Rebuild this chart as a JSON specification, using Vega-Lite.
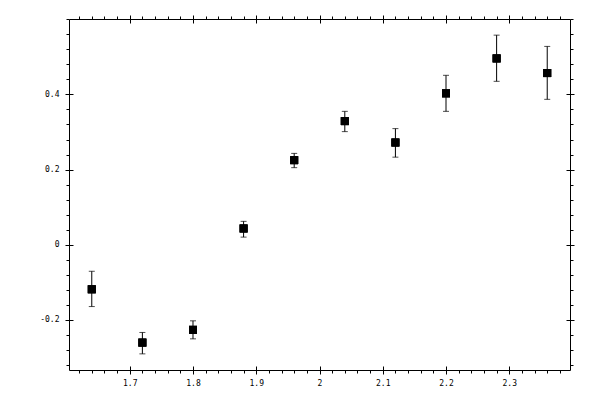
{
  "$schema": "https://vega.github.io/schema/vega-lite/v6.json",
  "autosize": "none",
  "width": 501,
  "height": 351,
  "padding": {"left": 69, "top": 19, "right": 30, "bottom": 30},
  "background": "white",
  "data": {
    "values": [
      {"x": 1.64, "y": -0.119, "lo": -0.165, "hi": -0.071},
      {"x": 1.72, "y": -0.261, "lo": -0.291, "hi": -0.234},
      {"x": 1.80, "y": -0.227, "lo": -0.251, "hi": -0.203},
      {"x": 1.88, "y": 0.043, "lo": 0.020, "hi": 0.062},
      {"x": 1.96, "y": 0.225, "lo": 0.205, "hi": 0.243},
      {"x": 2.04, "y": 0.329, "lo": 0.301, "hi": 0.355},
      {"x": 2.12, "y": 0.272, "lo": 0.233, "hi": 0.309},
      {"x": 2.20, "y": 0.403, "lo": 0.355, "hi": 0.451},
      {"x": 2.28, "y": 0.496, "lo": 0.435, "hi": 0.558},
      {"x": 2.36, "y": 0.457, "lo": 0.387, "hi": 0.528}
    ]
  },
  "resolve": {"axis": {"x": "independent", "y": "independent"}},
  "layer": [
    {
      "mark": {"type": "rule", "color": "black", "strokeWidth": 1},
      "encoding": {
        "x": {
          "field": "x", "type": "quantitative",
          "scale": {"domain": [1.604, 2.396], "nice": false, "zero": false},
          "axis": {"orient": "bottom", "title": null, "values": [1.7, 1.8, 1.9, 2, 2.1, 2.2, 2.3], "tickSize": 4, "labelPadding": 5, "labelExpr": "toString(datum.value)"}
        },
        "y": {
          "field": "lo", "type": "quantitative",
          "scale": {"domain": [-0.334, 0.601], "nice": false, "zero": false},
          "axis": {"orient": "left", "title": null, "values": [-0.2, 0, 0.2, 0.4], "tickSize": 4, "labelPadding": 6, "labelExpr": "toString(datum.value)"}
        },
        "y2": {"field": "hi"}
      }
    },
    {
      "mark": {"type": "tick", "color": "black", "orient": "horizontal", "size": 6, "thickness": 1},
      "encoding": {
        "x": {
          "field": "x", "type": "quantitative",
          "axis": {"orient": "bottom", "title": null, "values": [1.7, 1.8, 1.9, 2, 2.1, 2.2, 2.3], "tickSize": -4, "labels": false}
        },
        "y": {
          "field": "hi", "type": "quantitative",
          "axis": {"orient": "left", "title": null, "values": [-0.2, 0, 0.2, 0.4], "tickSize": -4, "labels": false}
        }
      }
    },
    {
      "mark": {"type": "tick", "color": "black", "orient": "horizontal", "size": 6, "thickness": 1},
      "encoding": {
        "x": {
          "field": "x", "type": "quantitative",
          "axis": {"orient": "bottom", "title": null, "values": [1.62, 1.64, 1.66, 1.68, 1.72, 1.74, 1.76, 1.78, 1.82, 1.84, 1.86, 1.88, 1.92, 1.94, 1.96, 1.98, 2.02, 2.04, 2.06, 2.08, 2.12, 2.14, 2.16, 2.18, 2.22, 2.24, 2.26, 2.28, 2.32, 2.34, 2.36, 2.38], "tickSize": 3, "labels": false}
        },
        "y": {
          "field": "lo", "type": "quantitative",
          "axis": {"orient": "left", "title": null, "values": [-0.32, -0.28, -0.24, -0.16, -0.12, -0.08, -0.04, 0.04, 0.08, 0.12, 0.16, 0.24, 0.28, 0.32, 0.36, 0.44, 0.48, 0.52, 0.56, 0.6], "tickSize": 3, "labels": false}
        }
      }
    },
    {
      "mark": {"type": "point", "shape": "square", "filled": true, "color": "black", "size": 64, "opacity": 1},
      "encoding": {
        "x": {
          "field": "x", "type": "quantitative",
          "axis": {"orient": "top", "title": null, "values": [1.7, 1.8, 1.9, 2, 2.1, 2.2, 2.3], "tickSize": 4, "labels": false}
        },
        "y": {
          "field": "y", "type": "quantitative",
          "axis": {"orient": "right", "title": null, "values": [-0.2, 0, 0.2, 0.4], "tickSize": 4, "labels": false}
        }
      }
    },
    {
      "mark": {"type": "point", "shape": "square", "filled": true, "color": "black", "size": 64, "opacity": 1},
      "encoding": {
        "x": {
          "field": "x", "type": "quantitative",
          "axis": {"orient": "top", "title": null, "values": [1.7, 1.8, 1.9, 2, 2.1, 2.2, 2.3], "tickSize": -4, "labels": false}
        },
        "y": {
          "field": "y", "type": "quantitative",
          "axis": {"orient": "right", "title": null, "values": [-0.2, 0, 0.2, 0.4], "tickSize": -4, "labels": false}
        }
      }
    },
    {
      "mark": {"type": "point", "shape": "square", "filled": true, "color": "black", "size": 64, "opacity": 1},
      "encoding": {
        "x": {
          "field": "x", "type": "quantitative",
          "axis": {"orient": "top", "title": null, "values": [1.62, 1.64, 1.66, 1.68, 1.72, 1.74, 1.76, 1.78, 1.82, 1.84, 1.86, 1.88, 1.92, 1.94, 1.96, 1.98, 2.02, 2.04, 2.06, 2.08, 2.12, 2.14, 2.16, 2.18, 2.22, 2.24, 2.26, 2.28, 2.32, 2.34, 2.36, 2.38], "tickSize": 3, "labels": false}
        },
        "y": {
          "field": "y", "type": "quantitative",
          "axis": {"orient": "right", "title": null, "values": [-0.32, -0.28, -0.24, -0.16, -0.12, -0.08, -0.04, 0.04, 0.08, 0.12, 0.16, 0.24, 0.28, 0.32, 0.36, 0.44, 0.48, 0.52, 0.56, 0.6], "tickSize": 3, "labels": false}
        }
      }
    }
  ],
  "config": {
    "view": {"stroke": "black", "strokeWidth": 1},
    "axis": {
      "domain": false,
      "grid": false,
      "tickColor": "black",
      "tickWidth": 1,
      "labelFont": "DejaVu Sans Mono",
      "labelFontSize": 8,
      "labelColor": "black",
      "offset": 0
    }
  }
}
